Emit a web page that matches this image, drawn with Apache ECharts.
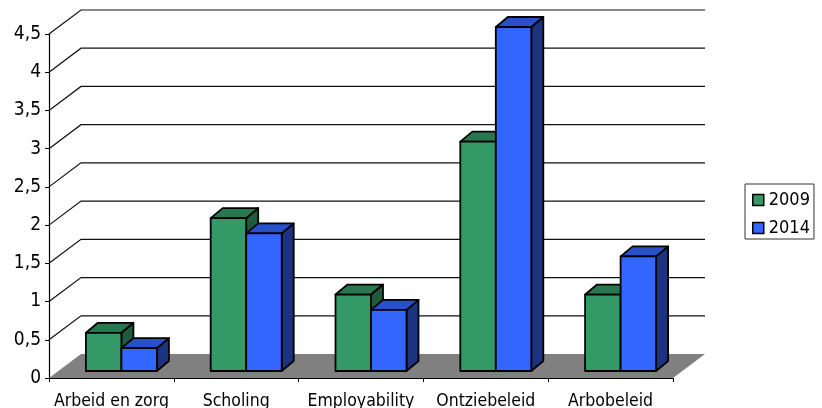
<!DOCTYPE html>
<html><head><meta charset="utf-8">
<style>html,body{margin:0;padding:0;background:#fff}#c{width:822px;height:408px}</style>
<script src="https://cdn.jsdelivr.net/npm/echarts@6/dist/echarts.min.js"></script>
</head><body><div id="c"></div>
<script>
const categories = ['Arbeid en zorg','Scholing','Employability','Ontziebeleid','Arbobeleid'];
const values2009 = [0.5,2,1,3,1];
const values2014 = [0.3,1.8,0.8,4.5,1.5];
const yTicks = [0.5,1,1.5,2,2.5,3,3.5,4,4.5];
const FONT = '"DejaVu Sans Condensed","DejaVu Sans"';
const WALL_DX = 32, WALL_DY = 24;
const BAR_DX = 12, BAR_DY = 10, FLOOR_X = 10, FLOOR_Y = 7;

function barRender(side, front, top, dark){
  return function(params, api){
    const idx = api.value(0), v = api.value(1);
    const band = api.size([1,0])[0];
    const w = band * 0.2845;
    const t = api.coord([idx, v]), b = api.coord([idx, 0]);
    const x0 = t[0] + FLOOR_X + (side === 0 ? -w : 0), x1 = x0 + w;
    const yT = t[1] - FLOOR_Y, yB = b[1] - FLOOR_Y;
    const st = {stroke:'#000', lineWidth:1.8, lineJoin:'round'};
    const poly = (pts, fill) => ({type:'polygon', shape:{points:pts}, style:Object.assign({fill}, st), silent:true});
    return {type:'group', children:[
      poly([[x1,yT],[x1+BAR_DX,yT-BAR_DY],[x1+BAR_DX,yB-BAR_DY],[x1,yB]], dark),
      poly([[x0,yT],[x0+BAR_DX,yT-BAR_DY],[x1+BAR_DX,yT-BAR_DY],[x1,yT]], top),
      poly([[x0,yT],[x1,yT],[x1,yB],[x0,yB]], front)
    ]};
  };
}
function wallRender(params, api){
  const v = api.value(1);
  const p = api.coord([0, v]);
  const s = params.coordSys;
  const xL = s.x, xR = s.x + s.width;
  return {type:'polyline', silent:true, shape:{points:[[xL,p[1]],[xL+WALL_DX,p[1]-WALL_DY],[xR+WALL_DX,p[1]-WALL_DY]]},
    style:{stroke:'#111', lineWidth:1.2, fill:null}};
}
function floorRender(params, api){
  const p = api.coord([0, 0]);
  const s = params.coordSys;
  const xL = s.x, xR = s.x + s.width;
  return {type:'polygon', silent:true, shape:{points:[[xL,p[1]],[xL+WALL_DX,p[1]-WALL_DY],[xR+WALL_DX,p[1]-WALL_DY],[xR,p[1]]]},
    style:{fill:'#808080', stroke:'none'}};
}
const chart = echarts.init(document.getElementById('c'), null, {renderer:'canvas'});
chart.setOption({
  animation:false,
  backgroundColor:'#fff',
  grid:{left:49, right:149, top:34, bottom:30, containLabel:false, outerBoundsMode:'none'},
  legend:{
    data:['2009','2014'], orient:'vertical', left:745, top:184, itemWidth:11, itemHeight:11, itemGap:10,
    padding:[7,4,2,7], borderColor:'#333', borderWidth:1, backgroundColor:'#fff', icon:'rect', selectedMode:false,
    textStyle:{fontFamily:FONT, fontSize:18, color:'#000', padding:[0,0,0,0]},
    itemStyle:{borderColor:'#000', borderWidth:1.5}
  },
  xAxis:{type:'category', data:categories, boundaryGap:true,
    axisLine:{show:true, lineStyle:{color:'#000', width:1.2}},
    axisTick:{show:true, alignWithLabel:false, length:4, lineStyle:{color:'#000'}},
    axisLabel:{fontFamily:FONT, fontSize:17.5, color:'#000', margin:14, interval:0},
    splitLine:{show:false}
  },
  yAxis:{type:'value', min:0, max:4.5, interval:0.5,
    axisLine:{show:true, lineStyle:{color:'#000', width:1.2}},
    axisTick:{show:true, length:4, lineStyle:{color:'#000'}},
    axisLabel:{fontFamily:FONT, fontSize:19, color:'#000', margin:8, padding:[5,0,0,0], formatter:v=>String(v).replace('.',',')},
    splitLine:{show:false}
  },
  series:[
    {type:'custom', name:'floor', silent:true, z:1, renderItem:floorRender, data:[[0,0]]},
    {type:'custom', name:'wall', silent:true, z:2, renderItem:wallRender, data:yTicks.map(v=>[0,v])},
    {type:'custom', name:'2009', z:3, itemStyle:{color:'#339966'},
      renderItem:barRender(0,'#339966','#28784F','#1E5B3D'),
      encode:{x:0,y:1}, data:values2009.map((v,i)=>[i,v])},
    {type:'custom', name:'2014', z:3, itemStyle:{color:'#3366FF'},
      renderItem:barRender(1,'#3366FF','#2850C8','#1C3380'),
      encode:{x:0,y:1}, data:values2014.map((v,i)=>[i,v])}
  ]
});
</script></body></html>
